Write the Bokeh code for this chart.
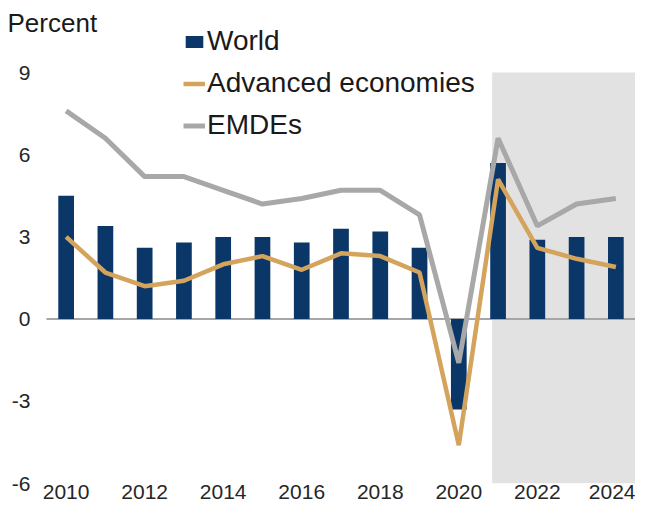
from bokeh.plotting import figure
from bokeh.models import Range1d, FixedTicker, Legend, LegendItem, ColumnDataSource, Label
from bokeh.embed import file_html
from bokeh.resources import INLINE

years = list(range(2010, 2025))
world = [4.5, 3.4, 2.6, 2.8, 3.0, 3.0, 2.8, 3.3, 3.2, 2.6, -3.3, 5.7, 2.9, 3.0, 3.0]
advanced = [3.0, 1.7, 1.2, 1.4, 2.0, 2.3, 1.8, 2.4, 2.3, 1.7, -4.6, 5.1, 2.6, 2.2, 1.9]
emdes = [7.6, 6.6, 5.2, 5.2, 4.7, 4.2, 4.4, 4.7, 4.7, 3.8, -1.6, 6.6, 3.4, 4.2, 4.4]
y_ticks = [-6, -3, 0, 3, 6, 9]
y_labels = {-6: "-6", -3: "-3", 0: "0", 3: "3", 6: "6", 9: "9"}
x_ticks = [2010, 2012, 2014, 2016, 2018, 2020, 2022, 2024]
forecast_start = 2020.85
forecast_end = 2024.5
x_first, x_last = 2009.5, 2024.5

W, H = 635, 511
LEFT = 7
BOTTOM = 28
F = H - BOTTOM                 # frame bottom (canvas px), y=-6 here
plot_left_px = 46              # where x_first sits (canvas px)
sx = (W - plot_left_px) / (x_last - x_first)
x_start = x_first - (plot_left_px - LEFT) / sx
Y9 = 72                        # canvas px of y=9
sy = (F - Y9) / 15.0
y_end = 9 + Y9 / sy

FONT = "Liberation Sans"
p = figure(width=W, height=H, output_backend="svg", toolbar_location=None,
           x_range=Range1d(x_start, x_last), y_range=Range1d(-6, y_end),
           min_border_left=LEFT, min_border_right=0, min_border_top=0, min_border_bottom=BOTTOM)
p.outline_line_color = None
p.xgrid.grid_line_color = None
p.ygrid.grid_line_color = None
p.background_fill_color = "white"

for ax in (p.xaxis[0], p.yaxis[0]):
    ax.axis_line_color = None
    ax.major_tick_line_color = None
    ax.minor_tick_line_color = None
    ax.major_tick_out = 0
    ax.major_tick_in = 0
    ax.minor_tick_out = 0
    ax.minor_tick_in = 0
    ax.major_label_text_font = FONT
    ax.major_label_text_font_size = "21px"
    ax.major_label_text_color = "#262626"
p.yaxis[0].ticker = FixedTicker(ticks=y_ticks)
p.yaxis[0].major_label_overrides = y_labels
p.yaxis[0].major_label_standoff = -23
p.xaxis[0].ticker = FixedTicker(ticks=x_ticks)
p.xaxis[0].major_label_standoff = 1

# forecast shading
p.quad(left=[forecast_start], right=[forecast_end], bottom=[-6], top=[9],
       fill_color="#e2e2e2", line_color=None)

# zero line
p.segment(x0=[x_first], x1=[x_last], y0=[0], y1=[0], line_color="#a6a6a6", line_width=2)

src = ColumnDataSource(dict(year=years, world=world, adv=advanced, em=emdes))
r_bar = p.vbar(x="year", top="world", bottom=0, width=0.4, source=src,
               fill_color="#0a3768", line_color=None)
r_adv = p.line(x="year", y="adv", source=src, line_color="#d4a35c", line_width=4.5)
r_em = p.line(x="year", y="em", source=src, line_color="#a8a8a8", line_width=5)

legend = Legend(items=[LegendItem(label="World", renderers=[r_bar]),
                       LegendItem(label="Advanced economies", renderers=[r_adv]),
                       LegendItem(label="EMDEs", renderers=[r_em])],
                location=(185 - LEFT - 2, F - 141),
                label_text_font=FONT, label_text_font_size="28px", label_text_color="#1a1a1a",
                glyph_width=22, glyph_height=15, label_standoff=2, label_height=32,
                spacing=10, padding=0, margin=0,
                border_line_color=None, background_fill_alpha=0)
p.add_layout(legend)

p.add_layout(Label(x=x_start, y=9 + (Y9 - 22) / sy, text="Percent",
                   text_font=FONT, text_font_size="26px", text_color="#1a1a1a",
                   text_baseline="middle", text_align="left"))

open("out.html", "w").write(file_html(p, INLINE))
